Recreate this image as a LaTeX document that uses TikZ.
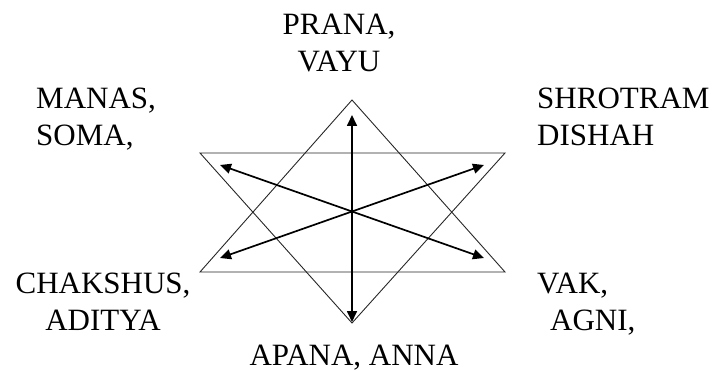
\documentclass[tikz,border=0pt]{standalone}
\usepackage{fontspec}
\setmainfont{Liberation Serif}
\usepackage{tikz}
\usetikzlibrary{arrows.meta,positioning}
\tikzset{
    label_text/.style={inner sep=0pt, font=\fontsize{31}{37}\selectfont},
    outline/.style={draw=black!85, line width=0.9pt, line join=miter},
    flow/.style={{Triangle[length=11pt,width=10pt]}-{Triangle[length=11pt,width=10pt]}, line width=1.7pt}
}
\begin{document}
\begin{tikzpicture}[x=1pt, y=-1pt]
  \useasboundingbox (0,0) rectangle (714,371);

  % Star of two triangles
  \coordinate (top) at (352,100);
  \coordinate (bot) at (352,323);
  \coordinate (ul) at (200,153);
  \coordinate (ur) at (505,153);
  \coordinate (ll) at (200,272);
  \coordinate (lr) at (505,272);
  \draw[outline] (top) -- (lr) -- (ll) -- cycle;
  \draw[outline] (bot) -- (ul) -- (ur) -- cycle;

  % Arrow ends
  \coordinate (c) at (352,212);
  \coordinate (n) at (352,115);
  \coordinate (s) at (352,322);
  \coordinate (nw) at (220,165);
  \coordinate (ne) at (484,165);
  \coordinate (sw) at (220,258);
  \coordinate (se) at (484,258);
  \draw[flow] (s) -- (n);
  \draw[flow] (nw) -- (se);
  \draw[flow] (sw) -- (ne);

  % Labels round the star (base = last line)
  \node[label_text, align=center, anchor=base] (prana) at (339,72) {PRANA,\\VAYU};
  \node[label_text, align=left, anchor=base west] (manas) at (36,146) {MANAS,\\SOMA,};
  \node[label_text, align=left, anchor=base west] (shrotram) at (537,146) {SHROTRAM\\DISHAH};
  \node[label_text, align=center, anchor=base] (chakshus) at (103,330) {CHAKSHUS,\\ADITYA};
  \node[label_text, align=left, anchor=base west] (vak) at (537,330) {VAK,\\\hspace*{13pt}AGNI,};
  \node[label_text, anchor=base] (apana) at (354,365) {APANA, ANNA};
\end{tikzpicture}
\end{document}
